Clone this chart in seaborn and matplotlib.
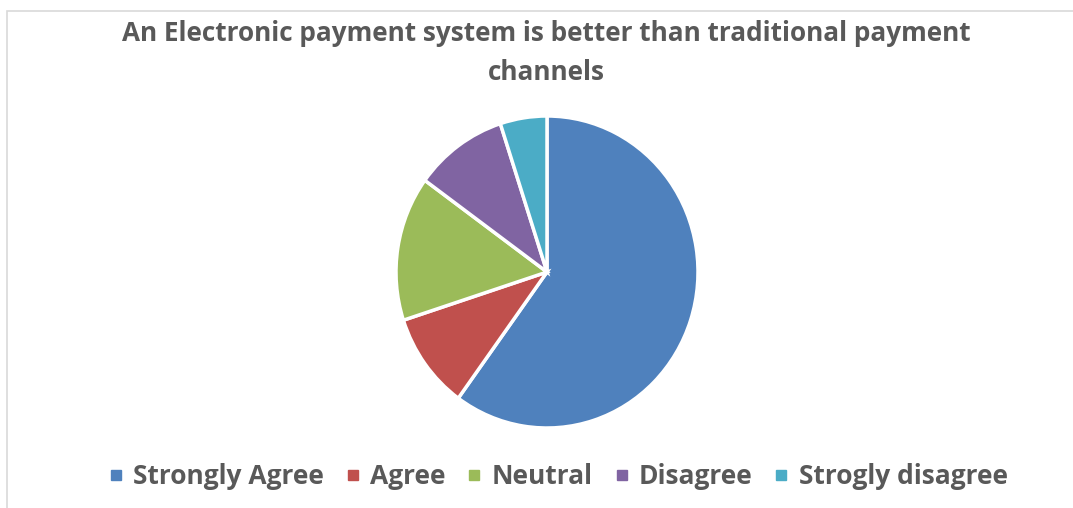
import matplotlib
matplotlib.use("Agg")
import matplotlib.pyplot as plt
from matplotlib.patches import Rectangle
from matplotlib.lines import Line2D
import seaborn as sns

categories = ["Strongly Agree", "Agree", "Neutral", "Disagree", "Strogly disagree"]
values = [60, 10, 15, 10, 5]
colors = ["#4F81BD", "#C0504D", "#9BBB59", "#8064A2", "#4BACC6"]
title = "An Electronic payment system is better than traditional payment\nchannels"

sns.set_theme(style="white")
plt.rcParams['font.family'] = ['Open Sans', 'DejaVu Sans']

W, H = 1073, 508
fig = plt.figure(figsize=(W / 100, H / 100), dpi=100)
fig.patch.set_facecolor("white")

# outer chart border
fig.add_artist(Rectangle((7 / W, -0.05), (W + 20) / W, (H - 11) / H + 0.05,
                         transform=fig.transFigure, fill=False,
                         edgecolor="#D9D9D9", linewidth=1.2))

cx, cy, rx, ry = 547, 272, 151, 156
ax = fig.add_axes([(cx - rx) / W, (H - cy - ry) / H, 2 * rx / W, 2 * ry / H])
wedges, _ = ax.pie(values, colors=colors, startangle=90, counterclock=False,
                   radius=1.0, wedgeprops=dict(edgecolor="white", linewidth=2.5))
ax.set_aspect("auto")
ax.set_xlim(-1.0, 1.0)
ax.set_ylim(-1.0, 1.0)
ax.axis("off")

fig.text(546 / W, 1 - 53 / H, title, ha="center", va="center", fontsize=18.8,
         fontweight="bold", color="#595959", linespacing=1.6)

handles = [Line2D([0], [0], marker="s", linestyle="none", markersize=7,
                  markerfacecolor=c, markeredgecolor=c) for c in colors]
fig.legend(handles, categories, loc="center", bbox_to_anchor=(557 / W, 1 - 477 / H),
           ncol=5, frameon=False, handlelength=0.7, handletextpad=0.3,
           columnspacing=0.75, labelcolor="#595959",
           prop={"weight": "bold", "size": 19})

fig.savefig("out.png", dpi=100, facecolor="white")
